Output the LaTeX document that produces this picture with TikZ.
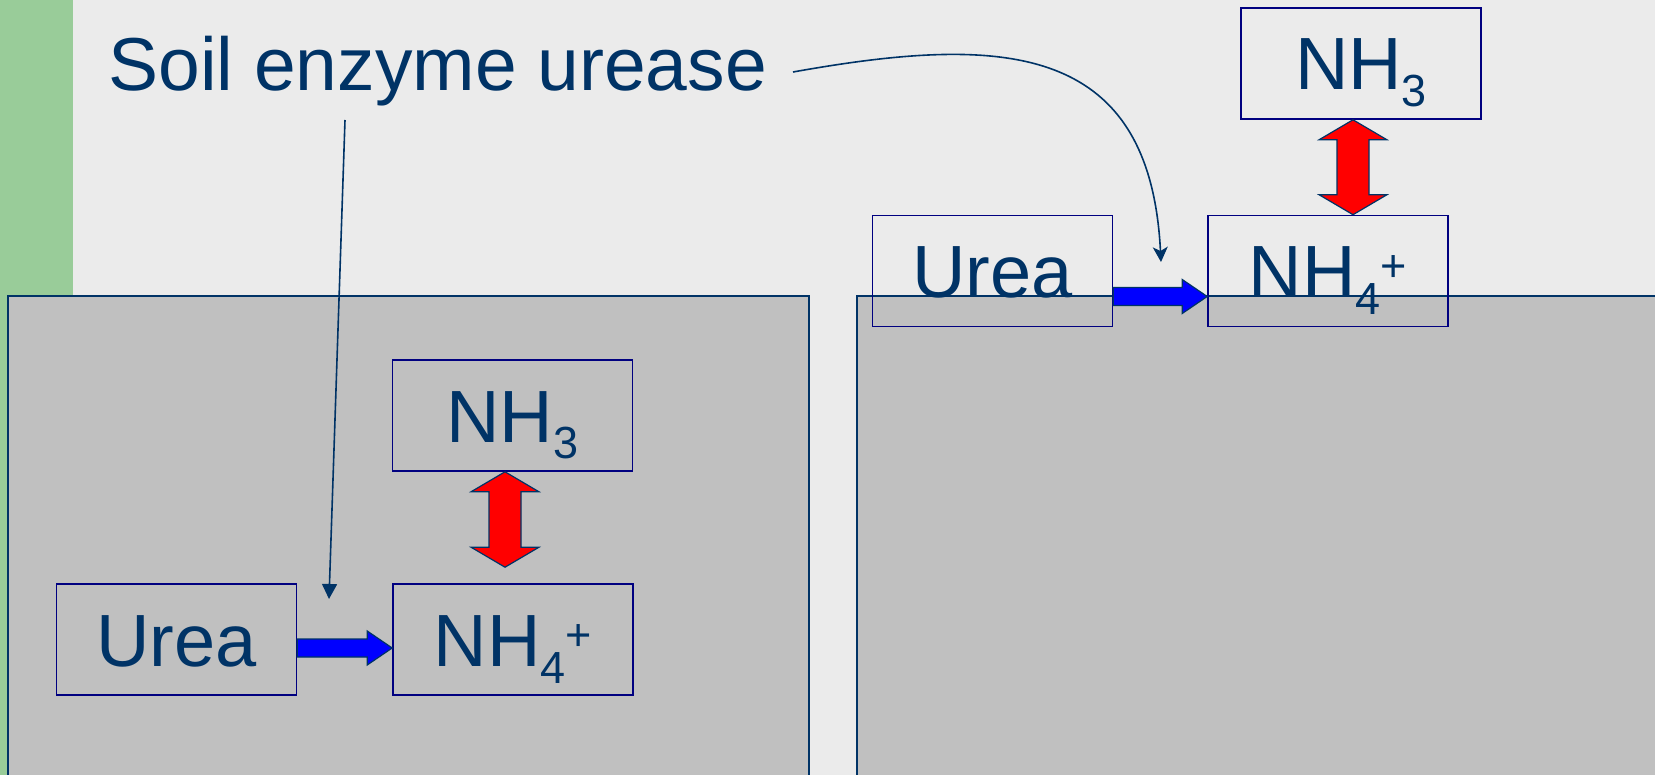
\documentclass[tikz,border=0pt]{standalone}
\usepackage{fontspec}
\setmainfont{Liberation Sans}
\usetikzlibrary{calc,arrows.meta}

\definecolor{slide}{HTML}{EBEBEB}
\definecolor{strip}{HTML}{99CC99}
\definecolor{soilgray}{HTML}{C0C0C0}
\definecolor{textblue}{HTML}{003366}
\definecolor{boxnavy}{HTML}{000080}

\newcommand\chemsub[1]{\raisebox{-8.5pt}{\fontsize{22.5}{22.5}\selectfont #1}}
\newcommand\chemsup[1]{\raisebox{8pt}{\fontsize{22.5}{22.5}\selectfont #1}}

% fat block arrow, left to right
\newcommand\fatright[2]{%
  \draw[fatblue] let \p1=(#1), \p2=(#2) in
    (\x1,\y1+4.5pt) -- (\x2-12.5pt,\y1+4.5pt) -- (\x2-12.5pt,\y1+8.5pt) -- (\x2,\y1)
    -- (\x2-12.5pt,\y1-8.5pt) -- (\x2-12.5pt,\y1-4.5pt) -- (\x1,\y1-4.5pt) -- cycle;}
% fat double arrow, top to bottom
\newcommand\updown[2]{%
  \draw[fatred] let \p1=(#1), \p2=(#2) in
    (\x1,\y1) -- (\x1+17pt,\y1-10pt) -- (\x1+8pt,\y1-10pt) -- (\x1+8pt,\y2+10pt)
    -- (\x1+17pt,\y2+10pt) -- (\x1,\y2) -- (\x1-17pt,\y2+10pt) -- (\x1-8pt,\y2+10pt)
    -- (\x1-8pt,\y1-10pt) -- (\x1-17pt,\y1-10pt) -- cycle;}

\tikzset{
  chembox/.style={draw=boxnavy, line width=0.8pt, minimum width=120pt, minimum height=55.5pt,
    inner sep=0pt, text height=26.5pt, text depth=0pt, text=textblue,
    font=\fontsize{37}{44}\selectfont},
  soil/.style={fill=soilgray, draw=textblue, line width=0.9pt},
  thinarrow/.style={draw=textblue, line width=0.8pt},
  fatblue/.style={fill=blue, draw=textblue, line width=0.6pt},
  fatred/.style={fill=red, draw=textblue, line width=0.6pt},
}

\begin{document}
\begin{tikzpicture}[x=0.5pt, y=-0.5pt]
        \useasboundingbox (0,0) rectangle (1655,775);
        \clip (0,0) rectangle (1655,775);
        \fill[slide] (0,0) rectangle (1655,775);
        \fill[strip] (0,0) rectangle (73,775);

        % soil
        \draw[soil] (8,296) rectangle (809,820);
        \draw[soil] (857,296) rectangle (1700,820);

        % in the soil
        \node[chembox] (lurea) at (176.5,639.5) {Urea};
        \node[chembox] (lnh4) at (513,639.5) {NH\chemsub{4}\chemsup{+}};
        \node[chembox] (lnh3) at (512.5,415.5) {NH\chemsub{3}};

        % on the surface
        \node[chembox] (rurea) at (992.5,271) {Urea};
        \node[chembox] (rnh4) at (1328,271) {NH\chemsub{4}\chemsup{+}};
        \node[chembox] (rnh3) at (1361,63.5) {NH\chemsub{3}};

        \fatright{$(lurea.east)+(0,8.5)$}{lnh4.west}
        \fatright{$(rurea.east)+(0,25.5)$}{rnh4.west}
        \updown{$(lnh3.south)+(-7.5,0)$}{$(lnh4.north)+(0,-16)$}
        \updown{$(rnh3.south)+(-8,0)$}{rnh4.north}

        \node[text=textblue, font=\fontsize{37.5}{45}\selectfont, anchor=base west, inner sep=0pt]
            (title) at (108,91) {Soil enzyme urease};

        \coordinate (lstart) at (345,120);
        \coordinate (lend) at (329,599);
        \coordinate (rstart) at (793,72);
        \coordinate (rend) at (1161,262);

        \draw[thinarrow, -{Triangle[length=7.5pt, width=7.5pt]}] (lstart) -- (lend);
        \draw[thinarrow, -{Stealth[length=7.5pt, width=7.5pt, inset=2pt]}] (rstart)
            .. controls (1000,35) and (1150,40) .. (rend);
    \end{tikzpicture}
\end{document}
